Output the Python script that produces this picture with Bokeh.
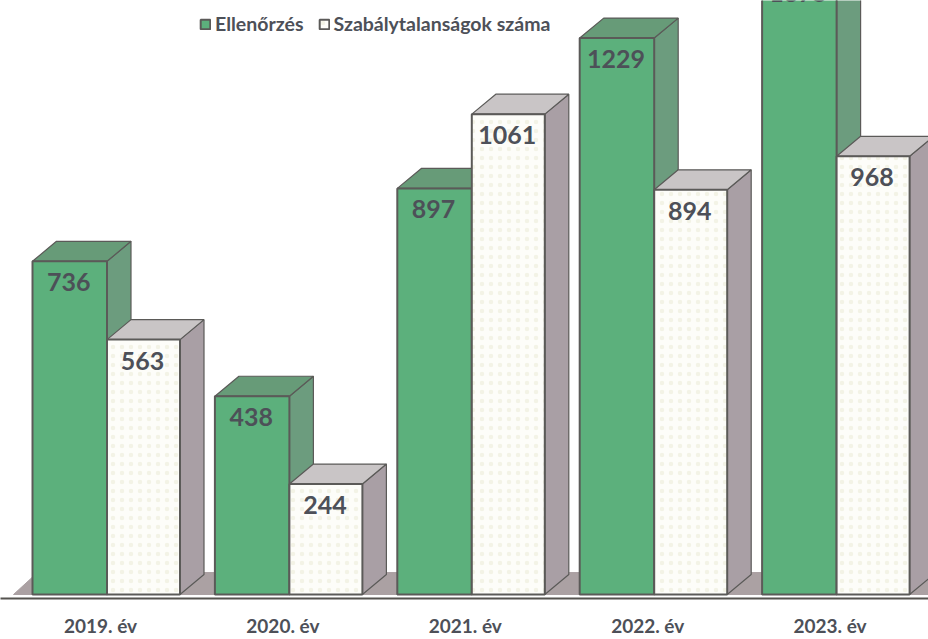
from bokeh.plotting import figure
from bokeh.models import ColumnDataSource, FixedTicker, Legend, LegendItem, Range1d
from bokeh.core.properties import value
from bokeh.embed import file_html
from bokeh.resources import INLINE

years = ["2019. év", "2020. év", "2021. év", "2022. év", "2023. év"]
ellenorzes = [736, 438, 897, 1229, 1375]
szabalytalan = [563, 244, 1061, 894, 968]
series_names = ["Ellenőrzés", "Szabálytalanságok száma"]

# geometry, in the x units of the plot and y units of the values
W, H = 928, 639
PX_PER_UNIT = 0.4535
AXIS_PX = 40
FIRST, STEP = 32, 182.4
GREEN_W, WHITE_W = 74.5, 73
DX, DY = 24, 20 / PX_PER_UNIT
Y_TOP = 595 / PX_PER_UNIT
Y_BOTTOM = -4 / PX_PER_UNIT
INK = "#5b5a58"
TEXT = "#4d5058"


def boxes(values, offset, width):
    lefts = [FIRST + STEP * i + offset for i in range(len(values))]
    rights = [l + width for l in lefts]
    return dict(
        left=lefts,
        right=rights,
        v=values,
        zero=[0] * len(values),
        cx=[l + width / 2 - 1 for l in lefts],
        ly=[v - 21 / PX_PER_UNIT for v in values],
        label=[str(v) for v in values],
        top_xs=[[l, r, r + DX, l + DX] for l, r in zip(lefts, rights)],
        top_ys=[[v, v, v + DY, v + DY] for v in values],
        side_xs=[[r, r + DX, r + DX, r] for r in rights],
        side_ys=[[0, DY, v + DY, v] for v in values],
    )


p = figure(
    width=W, height=H, output_backend="svg", toolbar_location=None,
    x_range=Range1d(0, W), y_range=Range1d(Y_BOTTOM, Y_TOP),
    min_border=0, min_border_bottom=AXIS_PX,
    background_fill_color="white", border_fill_color="white",
    outline_line_color=None,
)
p.grid.visible = False
p.yaxis.visible = False

# floor
p.patch([13, 37, W, W], [0, DY * 1.1, DY * 1.1, 0],
        fill_color="#aba1a3", line_color="#aba1a3", line_width=1)

styles = [
    (ellenorzes, 0, GREEN_W, "#5cb07c", "#679b78", "#6c9c7e", None),
    (szabalytalan, GREEN_W, WHITE_W, "#fdfdf9", "#c9c5c6", "#a99fa5", "dot"),
]
fronts = []
for vals, off, width, front, top, side, hatch in styles:
    src = ColumnDataSource(boxes(vals, off, width))
    p.patches("side_xs", "side_ys", source=src, fill_color=side, line_color=INK, line_width=1.2)
    p.patches("top_xs", "top_ys", source=src, fill_color=top, line_color=INK, line_width=1.2)
    r = p.quad(left="left", right="right", top="v", bottom="zero", source=src,
               fill_color=front, line_color=INK, line_width=2,
               hatch_pattern=hatch, hatch_color="#f3f3e6", hatch_scale=9, hatch_weight=1)
    fronts.append(r)
    p.text(x="cx", y="ly", text="label", source=src, text_align="center",
           text_baseline="middle", text_font=value("Lato"), text_font_style="bold",
           text_font_size="25px", text_color=TEXT)

# axis
p.xaxis.ticker = FixedTicker(ticks=[100 + STEP * i for i in range(len(years))])
p.xaxis.major_label_overrides = {100 + STEP * i: y for i, y in enumerate(years)}
p.xaxis.major_tick_line_color = None
p.xaxis.minor_tick_line_color = None
p.xaxis.axis_line_color = "#55534f"
p.xaxis.axis_line_width = 2
p.xaxis.major_label_text_font = "Lato"
p.xaxis.major_label_text_font_style = "bold"
p.xaxis.major_label_text_font_size = "19px"
p.xaxis.major_label_text_color = TEXT
p.xaxis.major_label_standoff = 9

legend = Legend(
    items=[LegendItem(label=n, renderers=[r]) for n, r in zip(series_names, fronts)],
    orientation="horizontal", location=(199, 563),
    border_line_color=None, background_fill_alpha=0,
    label_text_font="Lato", label_text_font_style="bold", label_text_font_size="19.5px",
    label_text_color=TEXT, glyph_width=12, glyph_height=12, label_standoff=4,
    spacing=14, padding=0, margin=0,
)
p.add_layout(legend, "center")

open("out.html", "w").write(file_html(p, INLINE))
